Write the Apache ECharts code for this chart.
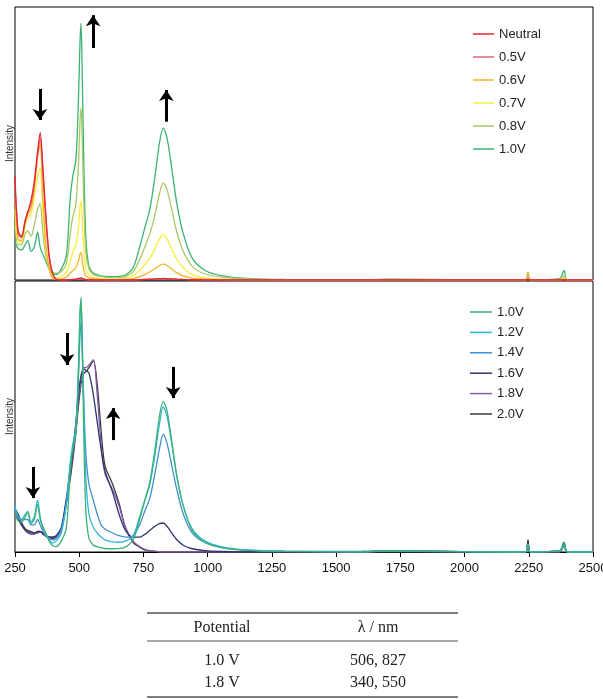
<!DOCTYPE html>
<html>
<head>
<meta charset="utf-8">
<script src="https://cdn.jsdelivr.net/npm/echarts@6/dist/echarts.min.js"></script>
<style>
  html, body { margin: 0; padding: 0; background: #fff; }
  #chart { width: 603px; height: 699px; }
</style>
</head>
<body>
<div id="chart"></div>
<script>
// wavelength grid (nm), shared by every curve
const wavelengths = [250, 262, 275, 290, 300, 312, 325, 338, 348, 358, 370, 383, 395, 410, 430, 450, 465, 475, 487, 497,
  503, 507, 512, 518, 526, 538, 555, 570, 585, 600, 630, 655, 680, 710, 735, 755, 775, 795, 812, 827,
  842, 860, 880, 905, 940, 990, 1060, 1150, 1300, 1600, 1700, 2200, 2238, 2247, 2256, 2370, 2387, 2400, 2500];

// top panel (oxidation up to 1.0 V)
const neutral = [38, 18, 16, 22, 25, 29, 36, 47, 54, 42, 24, 9, 3, 0.3, 0, 0, 0.1, 0.2, 0.3, 0.5,
  0.7, 0.8, 0.5, 0.3, 0.1, 0, 0, 0, 0, 0, 0, 0, 0, 0, 0.1, 0.2, 0.3, 0.4, 0.5, 0.6,
  0.5, 0.4, 0.3, 0.2, 0.1, 0, 0, 0, 0, 0, 0, 0, 0, 0.3, 0, 0, 0, 0, 0];
const v05 = [36, 17, 15.5, 22, 25, 28, 35, 46, 52, 40, 22, 8, 2.5, 0.3, 0, 0, 0.1, 0.2, 0.3, 0.4,
  0.6, 0.7, 0.5, 0.3, 0.1, 0, 0, 0, 0, 0, 0, 0, 0, 0, 0.1, 0.2, 0.3, 0.4, 0.5, 0.5,
  0.5, 0.4, 0.3, 0.2, 0.1, 0, 0, 0, 0, 0, 0, 0, 0, 0.5, 0, 0, 0, 0, 0];
const v06 = [30, 15, 14.5, 21, 24, 26, 33, 45, 49.5, 31, 13, 4, 0.8, 0.3, 0.4, 1, 2.5, 3.5, 4.5, 7,
  9.5, 10, 7, 3.5, 1.5, 0.8, 0.4, 0.3, 0.2, 0.1, 0.1, 0.1, 0.2, 0.5, 1.2, 2, 3, 4.2, 5.3, 5.8,
  5.3, 4, 2.6, 1.5, 0.7, 0.3, 0.1, 0, 0, 0, 0, 0, 0, 2.5, 0, 0, 0.5, 0, 0];
const v07 = [26, 14, 14, 20, 23, 24, 30, 38, 41, 26, 11, 4, 1.2, 0.8, 1.2, 3, 7, 10, 13, 19,
  27, 29, 21, 11, 4, 1.8, 1, 0.7, 0.5, 0.4, 0.3, 0.4, 0.6, 1.5, 3.5, 5.5, 8, 11.5, 15, 16.5,
  15, 11.5, 7.5, 4.5, 2, 0.8, 0.3, 0.1, 0, 0, 0.1, 0, 0, 1.2, 0, 0, 0.8, 0, 0];
const v08 = [20, 13, 13, 17, 18, 16, 20, 26, 28, 18, 9, 5, 3, 2.5, 3, 6, 17, 23, 28, 42,
  58, 63, 50, 28, 10, 4, 2, 1.5, 1.2, 1, 0.8, 0.9, 1.2, 3, 7.5, 12, 17, 24, 31.5, 35.5,
  33, 26, 17.5, 10.5, 5, 2.2, 1, 0.4, 0.1, 0, 0.2, 0, 0, 1.5, 0, 0.3, 1.5, 0, 0];
const v10 = [14, 11.5, 11, 13, 14.5, 10.5, 12, 17.5, 12, 9.5, 7, 4, 2.5, 2, 4, 9, 30, 38, 44, 66,
  87, 94, 74, 42, 15, 5, 2.5, 2, 1.5, 1.3, 1.2, 1.3, 1.8, 4.5, 12, 19, 26, 38, 50, 55.6,
  52, 41, 28, 17, 8, 3.5, 1.5, 0.6, 0.2, 0, 0.3, 0, 0, 2.8, 0, 0.5, 3.5, 0, 0];

// bottom panel (1.0 V to 2.0 V)
const v12 = [17, 13, 12, 14, 15, 11, 13, 19, 13, 9, 6.5, 4.5, 3.3, 4, 7, 18, 33, 40, 46, 68,
  88, 93, 78, 52, 27, 14, 9, 7, 5.5, 4.5, 3.7, 3.6, 4, 6, 13, 19, 25, 36, 47, 53.5,
  50, 40, 28, 17, 8.5, 4, 1.8, 0.8, 0.3, 0.1, 0.3, 0, 0, 3, 0, 0.3, 2.5, 0, 0];
const v14 = [16, 13, 12, 12, 12, 10, 10, 12, 10, 8, 6, 5, 4.5, 5, 8, 18, 32, 38, 45, 65,
  80, 84.5, 74, 55, 36, 25, 19, 14, 10, 8.5, 7, 6, 5.5, 6, 10, 15, 20, 29, 38, 43.5,
  40, 32, 23, 14, 7, 3.5, 1.5, 0.7, 0.3, 0.2, 0.5, 0, 0, 2.5, 0, 0.5, 2, 0, 0];
const v16 = [14, 12, 10, 8, 7.5, 7, 7, 7.5, 7.5, 7, 6, 5.5, 5.5, 6, 9, 20, 30, 37, 48, 58,
  63, 65, 67, 67.5, 67, 66, 58, 48, 38, 30, 22, 14, 8, 5.5, 5.5, 6.5, 8, 9.5, 10.5, 10.7,
  9.5, 7, 4.5, 2.5, 1.2, 0.5, 0.2, 0, 0, 0.2, 0.5, 0, 0, 4, 0, 0.5, 3.5, 0, 0];
const v18 = [15, 13, 10, 8, 7, 6.5, 6.5, 7.7, 7.7, 6.5, 5.8, 5.5, 5.5, 5.5, 8, 19, 29, 36, 46, 56,
  61, 64, 66, 68, 68, 69, 71, 58, 40, 29, 23, 17, 9, 4, 2, 1, 0.5, 0.3, 0.1, 0,
  0, 0, 0, 0, 0, 0, 0, 0, 0, 0, 0.3, 0, 0, 3, 0, 0, 2.5, 0, 0];
const v20 = [16, 14, 11, 8.5, 8, 7.5, 7, 7, 7.5, 7, 6, 5.5, 5, 5.5, 8, 18, 27, 34, 44, 54,
  59, 62, 64, 66, 66.5, 68, 70.5, 62, 45, 32, 25, 18, 9, 3.5, 1.8, 0.8, 0.4, 0.2, 0, 0,
  0, 0, 0, 0, 0, 0, 0, 0, 0, 0, 0, 0, 0, 4.5, 0, 0, 3.5, 0, 0];

const topNames = ['Neutral', '0.5V', '0.6V', '0.7V', '0.8V', '1.0V'];
const topValues = [neutral, v05, v06, v07, v08, v10];
const topColors = ['#e8232a', '#dc6a78', '#f2b325', '#f7ee3a', '#a9c964', '#3bb273'];

const botNames = ['1.0V', '1.2V', '1.4V', '1.6V', '1.8V', '2.0V'];
const botValues = [v10, v12, v14, v16, v18, v20];
const botColors = ['#3bb273', '#2fb6d9', '#3d8fcf', '#2c3570', '#8658ae', '#3a3a3a'];

// arrows: [wavelength, from, to] in intensity units
const topArrows = [[347, 70, 58.6], [554, 85, 97], [839, 58, 69.6]];
const botArrows = [[453, 80.8, 69], [320, 31.4, 19.9], [632, 41.3, 53.1], [866, 68.3, 56.8]];

// table under the chart
const tableHead = ['Potential', 'λ / nm'];
const tableRows = [['1.0 V', '506, 827'], ['1.8 V', '340, 550']];

const chart = echarts.init(document.getElementById('chart'), null, {renderer: 'canvas'});

function toPairs(vals) {
    return wavelengths.map((w, i) => [w, vals[i]]);
}

function lineSeries(name, vals, color, idx) {
    return {
        name: name,
        type: 'line',
        xAxisIndex: idx,
        yAxisIndex: idx,
        data: toPairs(vals),
        symbol: 'none',
        smooth: 0.3,
        lineStyle: {color: color, width: 1.3},
        itemStyle: {color: color},
        emphasis: {disabled: true},
        z: 2
    };
}

function arrowSeries(arrows, idx) {
    return {
        type: 'line',
        xAxisIndex: idx,
        yAxisIndex: idx,
        data: [],
        silent: true,
        z: 5,
        markLine: {
            silent: true,
            symbol: ['none', 'arrow'],
            symbolSize: [11, 11],
            label: {show: false},
            lineStyle: {color: '#000', width: 3, type: 'solid'},
            data: arrows.map(a => [{coord: [a[0], a[1]]}, {coord: [a[0], a[2]]}])
        }
    };
}

const series = [];
// reverse order so Neutral is drawn last on top
for (let i = topNames.length - 1; i >= 0; i--) {
    series.push(lineSeries(topNames[i], topValues[i], topColors[i], 0));
}
for (let i = botNames.length - 1; i >= 0; i--) {
    series.push(lineSeries(botNames[i], botValues[i], botColors[i], 1));
}
series.push(arrowSeries(topArrows, 0));
series.push(arrowSeries(botArrows, 1));

const font = 'Liberation Sans, Arial, sans-serif';
const serif = 'Liberation Serif, Times New Roman, serif';

// table drawn as graphic
const tblLeft = 147, tblRight = 458, colX = [222, 378];
const rowY = [628, 661, 683];
const graphic = [
    {type: 'line', shape: {x1: tblLeft, y1: 613, x2: tblRight, y2: 613}, style: {stroke: '#555', lineWidth: 1.5}},
    {type: 'line', shape: {x1: tblLeft, y1: 641, x2: tblRight, y2: 641}, style: {stroke: '#555', lineWidth: 1}},
    {type: 'line', shape: {x1: tblLeft, y1: 697, x2: tblRight, y2: 697}, style: {stroke: '#555', lineWidth: 1.5}}
];
[tableHead].concat(tableRows).forEach((row, r) => {
    row.forEach((txt, c) => {
        graphic.push({
            type: 'text',
            style: {
                text: txt, x: colX[c], y: rowY[r],
                textAlign: 'center', textVerticalAlign: 'middle',
                fontFamily: serif, fontSize: 16, fill: '#222'
            }
        });
    });
});

function yAxis(idx) {
    return {
        type: 'value',
        gridIndex: idx,
        min: 0,
        max: 100,
        name: 'Intensity',
        nameLocation: 'middle',
        nameGap: 0,
        nameTextStyle: {fontFamily: font, fontSize: 10, color: '#333'},
        axisLine: {show: false},
        axisTick: {show: false},
        axisLabel: {show: false},
        splitLine: {show: false}
    };
}

const legendBase = {
    orient: 'vertical',
    icon: 'rect',
    padding: 0,
    textStyle: {fontFamily: font, fontSize: 13, color: '#222', lineHeight: 14},
    selectedMode: false
};

const option = {
    animation: false,
    backgroundColor: '#fff',
    grid: [
        {left: 15, right: 10, top: 7, height: 273, show: true, borderColor: '#000', borderWidth: 1,
         containLabel: false, outerBoundsMode: 'none'},
        {left: 15, right: 10, top: 281, height: 271, show: true, borderColor: '#000', borderWidth: 1,
         containLabel: false, outerBoundsMode: 'none'}
    ],
    xAxis: [
        {
            type: 'value', gridIndex: 0, min: 250, max: 2500, interval: 250,
            axisLine: {show: false}, axisTick: {show: false}, axisLabel: {show: false},
            splitLine: {show: false}
        },
        {
            type: 'value', gridIndex: 1, min: 250, max: 2500, interval: 250,
            axisLine: {show: true, lineStyle: {color: '#000', width: 1}},
            axisTick: {show: true, length: 5, lineStyle: {color: '#000'}},
            axisLabel: {
                show: true, margin: 10, color: '#111', fontFamily: font, fontSize: 13,
                formatter: v => String(v)
            },
            splitLine: {show: false}
        }
    ],
    yAxis: [yAxis(0), yAxis(1)],
    legend: [
        Object.assign({}, legendBase, {
            data: topNames, left: 473, top: 27,
            itemWidth: 21, itemHeight: 1.5, itemGap: 9
        }),
        Object.assign({}, legendBase, {
            data: botNames, left: 470, top: 305,
            itemWidth: 22, itemHeight: 1.5, itemGap: 6.4
        })
    ],
    graphic: graphic,
    series: series
};

chart.setOption(option);
</script>
</body>
</html>
